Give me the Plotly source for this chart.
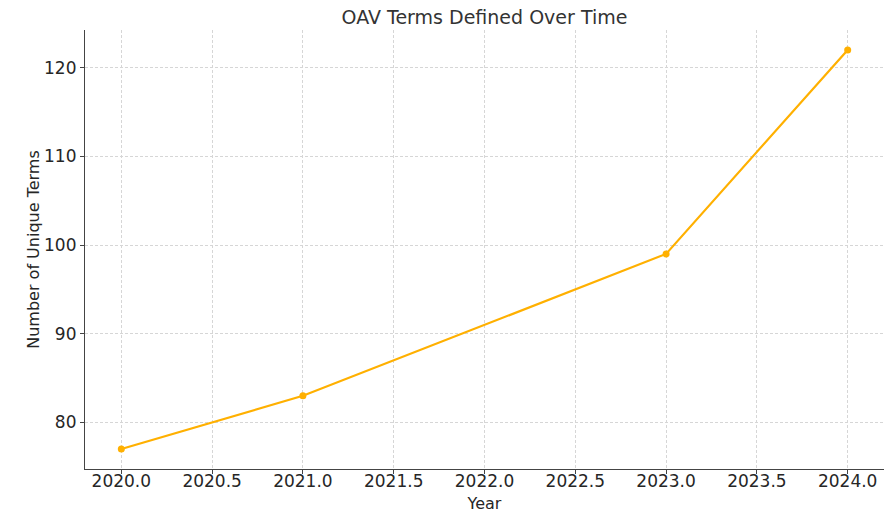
import plotly.graph_objects as go

years = [2020, 2021, 2023, 2024]
unique_terms = [77, 83, 99, 122]
x_ticks = [2020.0, 2020.5, 2021.0, 2021.5, 2022.0, 2022.5, 2023.0, 2023.5, 2024.0]
x_tick_labels = [f"{v:.1f}" for v in x_ticks]
y_ticks = [80, 90, 100, 110, 120]

fig = go.Figure()
fig.add_trace(go.Scatter(
    x=years, y=unique_terms, mode="lines+markers",
    line=dict(color="#FFB000", width=2.2),
    marker=dict(color="#FFB000", size=7),
))

# The page body has an 8px margin, so the figure is drawn 8px right and down.
font = "DejaVu Sans, sans-serif"
fig.update_layout(
    width=892, height=512,
    margin=dict(l=77, r=16, t=22, b=51),
    paper_bgcolor="white", plot_bgcolor="white",
    showlegend=False,
    font=dict(family=font, color="#262626", size=16),
    title=dict(text="OAV Terms Defined Over Time", x=0.5, xref="paper", xanchor="center",
               y=1, yref="container", yanchor="top", pad=dict(t=3),
               font=dict(size=19, color="#333333")),
)
grid = dict(showgrid=True, gridcolor="#d6d6d6", griddash="3px,2px", gridwidth=0.8,
            showline=True, linecolor="#444444", linewidth=1.2,
            ticks="outside", ticklen=4, tickcolor="#444444",
            zeroline=False, mirror=False, automargin=False,
            tickfont=dict(size=17, color="#262626"))
fig.update_xaxes(
    range=[2019.8, 2024.2], tickvals=x_ticks, ticktext=x_tick_labels,
    ticklabelstandoff=-8,
    title=dict(text="Year", standoff=8, font=dict(size=16)),
    **grid,
)
fig.update_yaxes(
    range=[74.75, 124.25], tickvals=y_ticks,
    title=dict(text="Number of Unique Terms", standoff=0, font=dict(size=16)),
    **grid,
)
fig.write_html("out.html")
